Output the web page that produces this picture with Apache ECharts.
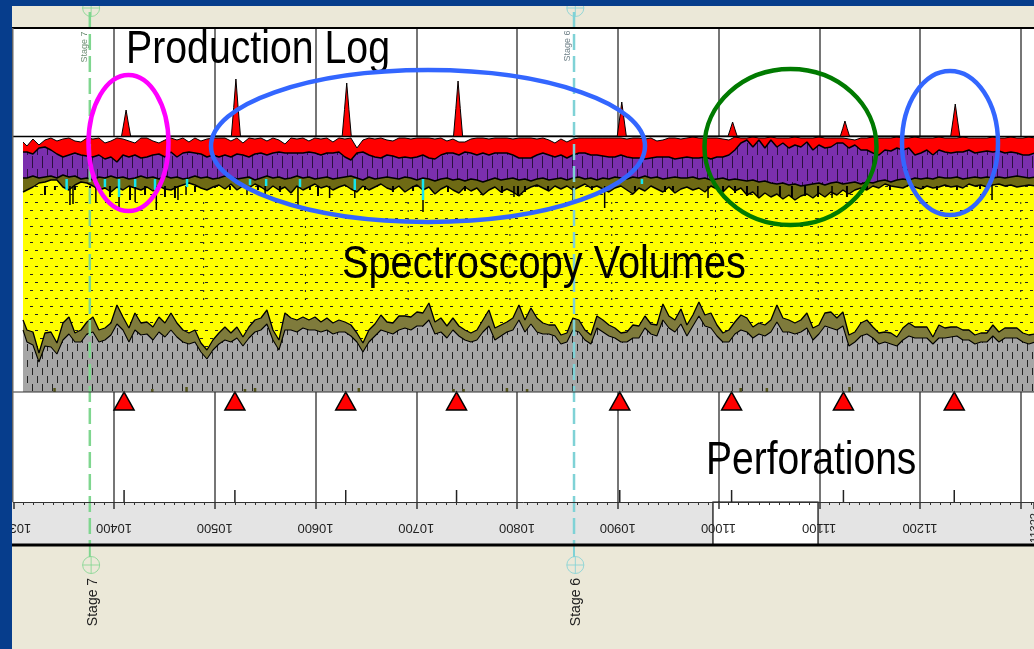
<!DOCTYPE html>
<html>
<head>
<meta charset="utf-8">
<style>html,body{margin:0;padding:0;background:#ebe8d8}#c{width:1034px;height:649px}</style>
<script src="https://cdn.jsdelivr.net/npm/echarts@6/dist/echarts.min.js"></script>
</head>
<body>
<div id="c"></div>
<script>
const depthTicks = ['10300','10400','10500','10600','10700','10800','10900','11000','11100','11200'];
const perfDepths = [10410,10520,10630,10740,10902,11013,11124,11234];
const logPeakDepths = [10412,10521,10631,10741.5,10904,11014,11125.5,11235];
const logPeakValues = [26,57,53,55,34,14,15,32];
const stageNames = ['Stage 7','Stage 6'];
const stageDepths = [10376,10856.6];
const whiteBandDepths = [10994.5,11098.8];
const yellowGridDepths = [10489,10590,10692,10793,10894,10997,11099,11200,11300];

const redTop = [250,
246,253,247,252,254,251,253,254,251,250,
254,253,254,249,251,254,253,251,249,254,
254,251,249,252,254,252,254,250,254,251,
253,254,254,254,251,254,249,254,253,254,
251,254,252,248,254,253,254,251,254,253,
254,250,254,253,254,244,252,254,253,254,
252,251,254,254,253,254,254,254,253,254,
251,253,250,250,253,254,254,253,254,254,
254,253,254,254,254,253,254,252,249,253,
250,253,254,254,254,254,254,254,254,254,
253,254,254,253,254,251,252,254,254,253,
254,255,254,254,254,254,253,252,255,254,
254,255,254,254,255,254,254,254,255,254,
254,254,255,254,254,254,254,253,252,254,
254,255,254,254,254,255,254,254,255,254,
254,254,255,254,254,254,255,254,254,254,
254,255,254,254,255,254,254,255,254];
const redBase = [240,
240,238,244,245,242,238,235,237,239,237,
236,235,237,233,235,230,237,235,237,234,
235,237,238,235,240,235,239,240,239,238,
235,237,235,237,235,238,237,235,238,239,
237,239,240,239,239,239,239,240,239,237,
239,239,240,235,232,239,240,237,235,234,
237,236,234,235,234,235,237,234,233,237,
239,239,237,240,239,237,239,237,239,239,
239,237,234,234,234,237,239,237,235,237,
234,237,239,239,237,237,236,235,235,237,
235,234,234,233,234,235,235,235,233,234,
235,234,234,235,233,235,235,237,242,249,
252,245,252,244,252,245,249,244,247,245,
250,242,247,244,245,249,249,244,247,242,
242,239,237,242,241,244,242,244,237,239,
242,237,242,240,239,240,240,242,239,240,
241,240,241,239,240,239,237,237,239];
const purpleBase = [214,
214,216,214,215,216,214,217,215,216,213,
214,212,215,214,216,214,215,213,214,216,
214,215,213,216,214,215,213,214,216,214,
215,213,214,216,215,213,214,215,212,214,
216,214,215,213,214,216,214,215,213,214,
215,213,214,215,216,214,212,215,213,214,
215,214,213,215,214,212,214,213,211,213,
214,212,213,211,213,212,210,212,214,212,
213,214,212,213,211,213,214,212,213,214,
212,214,215,213,214,212,214,213,215,214,
213,215,214,216,214,215,213,214,215,214,
214,215,213,214,212,213,214,212,213,212,
211,212,210,211,209,208,209,207,208,206,
207,208,209,207,209,210,208,209,210,208,
210,209,211,212,210,212,213,212,214,213,
214,213,215,214,214,215,213,214,215,214,
215,214,215,214,215,216,215,214,215];
const upperOliveBase = [200,
202,205,209,210,212,212,205,202,207,210,
209,206,202,204,200,205,202,206,204,202,
205,201,206,203,202,205,207,209,207,204,
202,205,207,203,208,202,206,204,208,205,
201,206,202,205,199,206,202,205,208,204,
206,202,205,207,203,200,206,202,205,208,
204,202,206,200,204,207,202,205,198,203,
206,202,199,205,201,204,197,202,205,200,
203,200,196,202,205,207,204,201,206,203,
206,202,205,208,204,206,203,200,204,206,
202,198,204,201,206,203,200,205,199,203,
205,202,204,200,206,203,200,206,201,204,
197,200,194,199,195,198,193,197,192,196,
198,194,199,195,200,197,202,198,202,204,
202,206,204,208,206,205,204,207,205,203,
206,204,205,207,205,206,204,208,206,207,
205,207,208,206,207,205,206,207,206];
const lowerOliveTop = [72,
62,60,39,59,60,49,69,75,59,62,
70,75,62,64,69,87,75,64,79,69,
70,65,75,69,79,69,62,59,62,49,
42,52,59,65,59,65,55,65,72,74,
82,62,52,79,74,72,75,72,75,70,
74,69,72,70,67,59,49,62,68,77,
70,69,76,76,75,80,79,89,70,74,
66,74,66,62,59,62,72,82,64,67,
70,74,87,72,84,74,69,67,67,57,
59,74,72,62,57,76,72,67,64,59,
60,67,66,76,68,67,88,76,72,83,
67,77,90,77,79,67,59,62,70,77,
74,65,69,67,72,87,74,72,69,72,
79,64,67,79,80,74,80,57,60,69,
72,65,59,60,59,55,64,69,65,65,
65,55,67,64,65,65,62,62,57,59,
59,67,60,64,64,64,59,57,58];
const grayTop = [62,
50,47,30,46,45,38,52,58,50,50,
58,60,50,52,57,68,62,50,62,57,
58,52,60,55,62,55,50,48,50,40,
33,42,48,52,50,54,46,54,60,62,
68,52,42,62,62,60,64,62,62,60,
62,58,60,60,56,50,40,50,56,62,
60,58,62,64,62,66,66,72,58,60,
54,62,56,52,50,52,60,66,52,56,
60,62,72,60,68,60,58,58,56,48,
50,62,60,52,48,64,60,56,54,50,
50,54,54,64,58,56,72,64,60,68,
56,66,76,66,64,56,50,50,58,62,
60,54,58,56,60,70,60,60,58,60,
64,52,58,66,64,62,66,46,50,56,
58,54,48,50,48,46,52,56,54,54,
54,48,54,54,55,56,52,52,48,50,
50,56,50,54,54,54,50,48,50];

const blackSpikeDepths = [10356.3,10359.3,10382,10405,10421,10442,10463.5,10471.5,10532,10550,10582.6,10614,10639,10706.7,10797,10855.6,10887,10989.6,11039,11112.7,11271.5];
const blackSpikeEnds = [187,188,189,184,190,182,192,197,197,197,187,194,194,180,195,192,184,194,195,194,192];
const fuzzSpikeDepths = [10331.5,10341.4,10361.3,10376.2,10396,10415.9,10430.8,10450.6,10460.5,10480.4,10500.2,10515.1,10542.9,10564.8,10594.5,10602.5,10649.1,10676.9,10696.8,10731.5,10748.4,10785.1,10801,10807.9,10830.8,10874.4,10917.1,10946.9,10954.8,11004.5,11016.4,11028.3,11061,11072.9,11085.9,11098.8,11127.5,11147.4,11170.2,11203,11216.9,11236.7,11259.6];
const fuzzSpikeEnds = [197,202,202,200,195,192,197,195,194,200,204,202,202,200,202,196,202,200,201,200,201,199,196,200,202,202,201,200,201,200,199,196,195,194,196,195,195,202,202,203,202,202,203];
const cyanSpikeDepths = [10353,10391,10405,10421,10440.7,10472.5,10535,10551,10584.6,10639,10706.7,10924];
const cyanSpikeEnds = [202,205,195,205,202,205,207,206,205,202,192,208];
const baseBumpDepths = [10341,10438,10472,10530,10540,10643,10737,10747,10790,10810,11022,11048,11130];
const baseBumpValues = [4,3,5,3,4,4,3,3,4,3,4,4,5];

const sampleDepths = [10309.7].concat(Array.from({length: redTop.length - 1}, (_, k) => 10313.6 + 5.955 * k));
const boundary = arr => arr.map((v, i) => [sampleDepths[i], v]);
const spikeLines = (ds, top, ends) => ds.flatMap((d, i) => [[d, top], [d, ends[i]], [d, null]]);

function tile(w, h, bg, draw) {
  const c = document.createElement('canvas');
  c.width = w; c.height = h;
  const g = c.getContext('2d');
  g.fillStyle = bg; g.fillRect(0, 0, w, h);
  g.fillStyle = '#222';
  draw(g);
  return {image: c, repeat: 'repeat'};
}
const yellowFill = tile(10, 16, '#ffff00', g => { g.fillRect(0, 2, 3, 1); g.fillRect(5, 10, 3, 1); });
const grayFill = tile(10, 16, '#a6a6a6', g => { g.fillRect(2, 0, 1, 7); g.fillRect(7, 8, 1, 7); });
const purpleFill = tile(10, 26, '#7b2fae', g => { g.fillStyle = '#2a1040'; g.fillRect(2, 0, 1, 12); g.fillRect(7, 13, 1, 12); });

const X_MIN = 10300, X_MAX = 11313.15;
const gridBase = {left: 13.25, right: 0, outerBoundsMode: 'none'};
const hiddenY = (gridIndex, min, max, extra) => Object.assign({type: 'value', gridIndex, min, max, show: false}, extra || {});
const xBase = (gridIndex, extra) => Object.assign({
  type: 'value', gridIndex, min: X_MIN, max: X_MAX, interval: 100,
  axisLine: {show: false}, axisTick: {show: false}, axisLabel: {show: false}, splitLine: {show: false}
}, extra || {});
const gridLines = {show: true, showMinLine: false, showMaxLine: false, lineStyle: {color: '#484848', width: 1.5}};

const layer = (name, data, fill, lw) => ({
  name, type: 'line', xAxisIndex: 1, yAxisIndex: 1, data: boundary(data),
  showSymbol: false, animation: false,
  lineStyle: {color: '#000', width: lw || 1},
  areaStyle: {color: fill, opacity: 1, origin: 'start'}
});
const strokes = (name, xi, data, color, width, dash) => ({
  name, type: 'line', xAxisIndex: xi, yAxisIndex: xi, data, showSymbol: false, animation: false, silent: true,
  lineStyle: {color, width, type: dash || 'solid'}, connectNulls: false
});

const logPeaks = logPeakDepths.flatMap((d, i) => [[d - 4.5, 0], [d - 2.2, logPeakValues[i] * 0.5], [d, logPeakValues[i]], [d + 2.2, logPeakValues[i] * 0.5], [d + 4.5, 0]]);
const circlePlus = 'path://M0 8A8 8 0 1 1 16 8A8 8 0 1 1 0 8ZM8 0V16M0 8H16';
const stageColors = ['#7fd68f', '#7fd2d6'];

const rect = (x, y, width, height, fill, z) => ({type: 'rect', shape: {x, y, width, height}, style: {fill}, z, silent: true});
const hline = (y, x1, x2, stroke, lineWidth) => ({type: 'line', shape: {x1, y1: y, x2, y2: y}, style: {stroke, lineWidth}, z: 30, silent: true});
const ring = (cx, cy, rx, ry, stroke) => ({type: 'ellipse', shape: {cx, cy, rx, ry}, style: {fill: 'none', stroke, lineWidth: 4.5}, z: 60, silent: true});
const bigText = (text, x, y, sx) => ({type: 'text', x, y, scaleX: sx, z: 50, silent: true, style: {text, fill: '#000', font: '47px "Liberation Sans",Arial', textAlign: 'left', textVerticalAlign: 'middle'}});
const vText = (text, x, y, font, fill) => ({type: 'text', x, y, rotation: Math.PI / 2, z: 40, silent: true, style: {text, fill, font, textAlign: 'center', textVerticalAlign: 'middle'}});

const option = {
  backgroundColor: '#ebe8d8',
  animation: false,
  grid: [
    Object.assign({top: 28, height: 108}, gridBase),
    Object.assign({top: 136, height: 256}, gridBase),
    Object.assign({top: 392, height: 110}, gridBase),
    Object.assign({top: 502, height: 43}, gridBase),
    Object.assign({top: 0, height: 649}, gridBase)
  ],
  xAxis: [
    xBase(0, {splitLine: gridLines}),
    xBase(1),
    xBase(2, {splitLine: gridLines}),
    xBase(3, {
      position: 'top', z: 10,
      axisLine: {show: true, onZero: false, lineStyle: {color: '#333', width: 1}},
      axisTick: {show: true, inside: true, length: 7, lineStyle: {color: '#333', width: 1.5}},
      minorTick: {show: true, splitNumber: 10, length: 3, lineStyle: {color: '#333', width: 1}},
      axisLabel: {
        show: true, inside: true, rotate: 180, margin: 19, showMinLabel: true, showMaxLabel: false,
        color: '#222', fontFamily: '"Liberation Sans",Arial', fontSize: 13,
        formatter: v => depthTicks.includes(String(v)) ? String(v) : ''
      }
    }),
    xBase(4)
  ],
  yAxis: [
    hiddenY(0, 0, 108),
    hiddenY(1, 0, 256),
    hiddenY(2, 0, 1),
    hiddenY(3, 0, 1),
    hiddenY(4, 0, 649, {inverse: true})
  ],
  series: [
    {name: 'Production Log', type: 'line', xAxisIndex: 0, yAxisIndex: 0, data: logPeaks, showSymbol: false,
      lineStyle: {color: '#000', width: 1}, areaStyle: {color: '#ff0000', opacity: 1}},
    layer('Red volume', redTop, '#ff0000', 1),
    layer('Purple volume', redBase, purpleFill, 1.5),
    layer('Upper olive volume', purpleBase, '#6e6a14', 1.5),
    layer('Yellow volume', upperOliveBase, yellowFill, 1.5),
    layer('Lower olive volume', lowerOliveTop, '#7f7b3c', 1.3),
    layer('Gray volume', grayTop, grayFill, 1.1),
    strokes('Yellow grid', 1, yellowGridDepths.flatMap(d => [[d, 92], [d, 190], [d, null]]), '#222', 1, [2, 6]),
    strokes('Base bumps', 1, spikeLines(baseBumpDepths, 0, baseBumpValues), '#55551a', 2.5),
    strokes('Fuzz spikes', 1, spikeLines(fuzzSpikeDepths, 206, fuzzSpikeEnds), '#000', 2),
    strokes('Black spikes', 1, spikeLines(blackSpikeDepths, 206, blackSpikeEnds), '#000', 1.5),
    strokes('Cyan spikes', 1, spikeLines(cyanSpikeDepths, 213, cyanSpikeEnds), '#14e6f0', 2.5),
    strokes('Perforation ticks', 2, spikeLines(perfDepths, 0, perfDepths.map(() => 0.11)), '#222', 1.5),
    {name: 'Perforations', type: 'scatter', xAxisIndex: 2, yAxisIndex: 2, data: perfDepths.map(d => [d, 0.918]),
      symbol: 'triangle', symbolSize: [20, 18], itemStyle: {color: '#ff0000', borderColor: '#000', borderWidth: 1.5, opacity: 1}, z: 5},
    {name: 'Axis band', type: 'line', xAxisIndex: 3, yAxisIndex: 3, data: [], z: 1,
      markArea: {silent: true, itemStyle: {color: '#fff', borderColor: '#000', borderWidth: 1.2},
        data: [[{xAxis: whiteBandDepths[0], yAxis: 0}, {xAxis: whiteBandDepths[1], yAxis: 1}]]}},
    ...stageDepths.map((d, i) => strokes(stageNames[i] + ' dashed', 4, [[d, 12], [d, 545]], stageColors[i], 2.5, [16, 6])),
    ...stageDepths.map((d, i) => strokes(stageNames[i] + ' lead', 4, [[d, 545], [d, 557]], stageColors[i], 2)),
    ...stageDepths.map((d, i) => ({name: stageNames[i] + ' marks', type: 'scatter', xAxisIndex: 4, yAxisIndex: 4, clip: false,
      data: [[d + 1.3, 8], [d + 1.3, 565]], symbol: circlePlus, symbolSize: 17,
      itemStyle: {color: 'none', borderColor: stageColors[i], borderWidth: 1}}))
  ],
  graphic: {elements: [
    rect(12, 28, 1022, 474, '#fff', -10),
    rect(12, 502, 1022, 43, '#e4e4e4', -10),
    hline(28, 12, 1034, '#000', 2),
    hline(136.5, 12, 1034, '#000', 1.5),
    hline(392, 12, 1034, '#333', 1.2),
    hline(545, 12, 1034, '#000', 3),
    {type: 'line', shape: {x1: 12.5, y1: 28, x2: 12.5, y2: 502}, style: {stroke: '#666', lineWidth: 2}, z: 30, silent: true},
    bigText('Production Log', 126, 50, 0.835),
    bigText('Spectroscopy Volumes', 342, 265, 0.845),
    bigText('Perforations', 706, 461, 0.83),
    vText('Stage 7', 84.5, 47, '9px "Liberation Sans",Arial', '#6f8f75'),
    vText('Stage 6', 568, 46, '9px "Liberation Sans",Arial', '#6f8088'),
    {type: 'text', x: 93, y: 602, rotation: Math.PI / 2, z: 40, silent: true, style: {text: stageNames[0], fill: '#222', font: '14px "Liberation Sans",Arial', textAlign: 'center', textVerticalAlign: 'middle'}},
    {type: 'text', x: 576.5, y: 602, rotation: Math.PI / 2, z: 40, silent: true, style: {text: stageNames[1], fill: '#222', font: '14px "Liberation Sans",Arial', textAlign: 'center', textVerticalAlign: 'middle'}},
    vText('11322', 1035, 528, '11px "Liberation Sans",Arial', '#222'),
    ring(128.5, 143, 40, 68, '#ff00ff'),
    ring(428, 146, 217, 76, '#3366ff'),
    ring(790.5, 147, 86, 78, '#007a00'),
    ring(950, 143, 48, 72, '#3366ff'),
    rect(0, 0, 12, 649, '#063d8c', 100),
    rect(0, 0, 1034, 6, '#063d8c', 100)
  ]}
};
const chart = echarts.init(document.getElementById('c'), null, {renderer: 'canvas'});
chart.setOption(option);
</script>
</body>
</html>
